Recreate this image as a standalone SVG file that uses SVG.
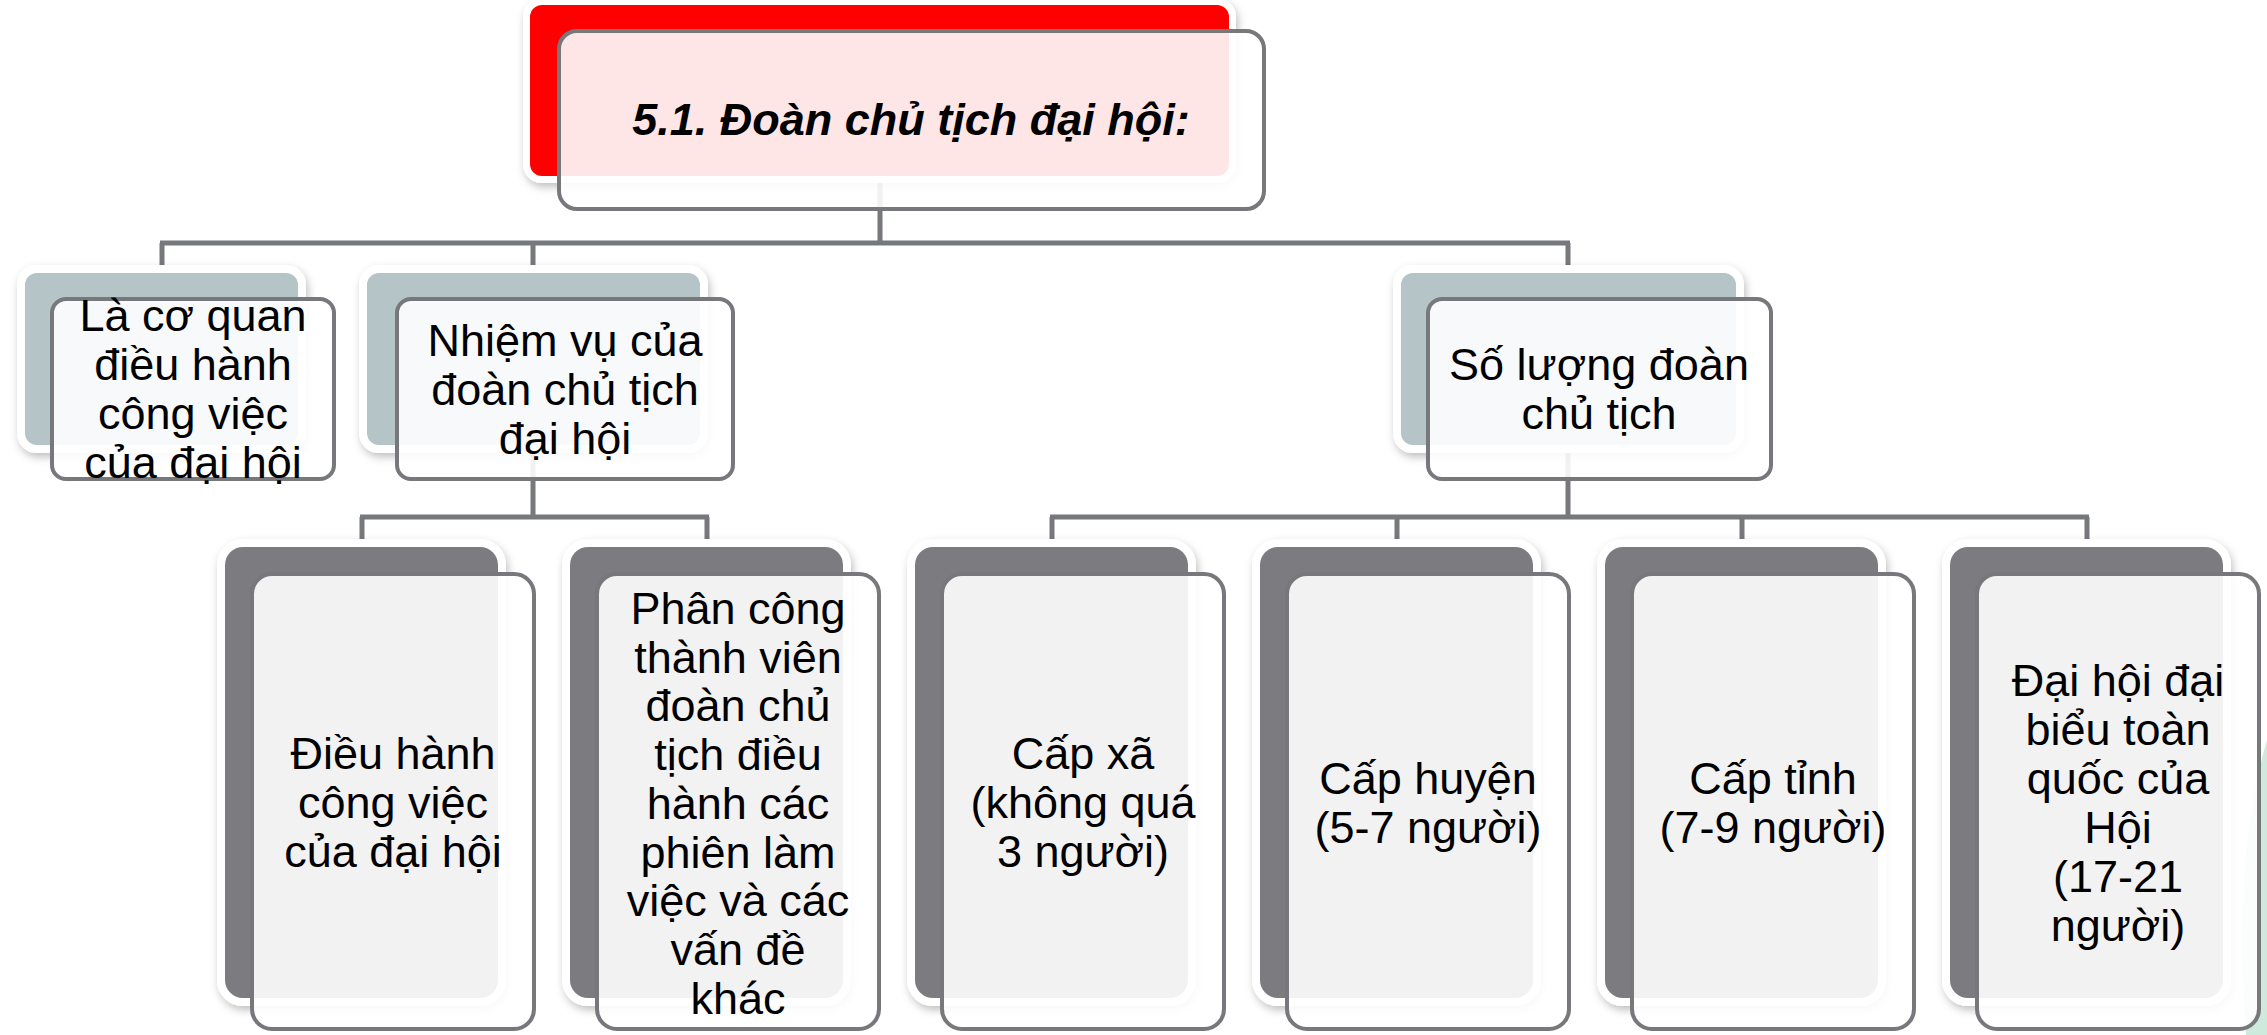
<svg xmlns="http://www.w3.org/2000/svg" width="2267" height="1035" viewBox="0 0 2267 1035">
  <defs>
    <filter id="sh" x="-10%" y="-10%" width="120%" height="125%">
      <feDropShadow dx="2" dy="4" stdDeviation="4" flood-color="#000" flood-opacity="0.25"/>
    </filter>
  </defs>
  <style>
    .conn { stroke: #77787b; stroke-width: 5; fill: none; }
    .back { stroke: #ffffff; stroke-width: 16; paint-order: stroke; filter: url(#sh); }
    .red { fill: #ff0000; stroke-width: 14; }
    .gtop { fill: #b5c4c7; }
    .gbot { fill: #7b7c80; }
    .front { fill: #ffffff; fill-opacity: 0.9; stroke: #77787b; stroke-width: 4; }
    .t { font-family: "Liberation Sans", Arial, sans-serif; font-size: 45px; fill: #000; text-anchor: middle; }
    .title { font-weight: bold; font-style: italic; }
  </style>
  <rect x="0" y="0" width="2267" height="1035" fill="#ffffff"/>
  <path d="M2267,740 Q2232,860 2246,1035 L2267,1035 Z" fill="#cdeadc"/>

  <g id="connectors">
    <path class="conn" d="M880,176 V243 M160,243 H1570 M162,243 V273 M533,243 V273 M1568,243 V273"/>
    <path class="conn" d="M533,445 V517 M360,517 H709 M362,517 V547 M707,517 V547"/>
    <path class="conn" d="M1568,445 V517 M1050,517 H2089 M1052,517 V547 M1397,517 V547 M1742,517 V547 M2087,517 V547"/>
  </g>

  <g id="node-title">
    <rect class="back red" x="530" y="5" width="699" height="171" rx="12"/>
    <rect class="front" x="559" y="31" width="705" height="178" rx="18"/>
    <text class="t title" x="911" y="135">5.1. Đoàn chủ tịch đại hội:</text>
  </g>

  <g id="node-co-quan">
    <rect class="back gtop" x="25" y="273" width="273" height="172" rx="12"/>
    <rect class="front" x="52" y="299" width="282" height="180" rx="14"/>
    <text class="t" x="193" y="331">Là cơ quan</text>
    <text class="t" x="193" y="380">điều hành</text>
    <text class="t" x="193" y="429">công việc</text>
    <text class="t" x="193" y="478">của đại hội</text>
  </g>

  <g id="node-nhiem-vu">
    <rect class="back gtop" x="367" y="273" width="333" height="172" rx="12"/>
    <rect class="front" x="397" y="299" width="336" height="180" rx="14"/>
    <text class="t" x="565" y="356">Nhiệm vụ của</text>
    <text class="t" x="565" y="405">đoàn chủ tịch</text>
    <text class="t" x="565" y="454">đại hội</text>
  </g>

  <g id="node-so-luong">
    <rect class="back gtop" x="1401" y="273" width="335" height="172" rx="12"/>
    <rect class="front" x="1428" y="299" width="343" height="180" rx="14"/>
    <text class="t" x="1599" y="380">Số lượng đoàn</text>
    <text class="t" x="1599" y="429">chủ tịch</text>
  </g>

  <g id="node-dieu-hanh">
    <rect class="back gbot" x="225" y="547" width="273" height="451" rx="18"/>
    <rect class="front" x="252" y="574" width="282" height="455" rx="20"/>
    <text class="t" x="393" y="769">Điều hành</text>
    <text class="t" x="393" y="818">công việc</text>
    <text class="t" x="393" y="867">của đại hội</text>
  </g>

  <g id="node-phan-cong">
    <rect class="back gbot" x="570" y="547" width="273" height="451" rx="18"/>
    <rect class="front" x="597" y="574" width="282" height="455" rx="20"/>
    <text class="t" x="738" y="624">Phân công</text>
    <text class="t" x="738" y="673">thành viên</text>
    <text class="t" x="738" y="721">đoàn chủ</text>
    <text class="t" x="738" y="770">tịch điều</text>
    <text class="t" x="738" y="819">hành các</text>
    <text class="t" x="738" y="868">phiên làm</text>
    <text class="t" x="738" y="916">việc và các</text>
    <text class="t" x="738" y="965">vấn đề</text>
    <text class="t" x="738" y="1014">khác</text>
  </g>

  <g id="node-cap-xa">
    <rect class="back gbot" x="915" y="547" width="273" height="451" rx="18"/>
    <rect class="front" x="942" y="574" width="282" height="455" rx="20"/>
    <text class="t" x="1083" y="769">Cấp xã</text>
    <text class="t" x="1083" y="818">(không quá</text>
    <text class="t" x="1083" y="867">3 người)</text>
  </g>

  <g id="node-cap-huyen">
    <rect class="back gbot" x="1260" y="547" width="273" height="451" rx="18"/>
    <rect class="front" x="1287" y="574" width="282" height="455" rx="20"/>
    <text class="t" x="1428" y="794">Cấp huyện</text>
    <text class="t" x="1428" y="843">(5-7 người)</text>
  </g>

  <g id="node-cap-tinh">
    <rect class="back gbot" x="1605" y="547" width="273" height="451" rx="18"/>
    <rect class="front" x="1632" y="574" width="282" height="455" rx="20"/>
    <text class="t" x="1773" y="794">Cấp tỉnh</text>
    <text class="t" x="1773" y="843">(7-9 người)</text>
  </g>

  <g id="node-toan-quoc">
    <rect class="back gbot" x="1950" y="547" width="273" height="451" rx="18"/>
    <rect class="front" x="1977" y="574" width="282" height="455" rx="20"/>
    <text class="t" x="2118" y="696">Đại hội đại</text>
    <text class="t" x="2118" y="745">biểu toàn</text>
    <text class="t" x="2118" y="794">quốc của</text>
    <text class="t" x="2118" y="843">Hội</text>
    <text class="t" x="2118" y="892">(17-21</text>
    <text class="t" x="2118" y="941">người)</text>
  </g>
</svg>
